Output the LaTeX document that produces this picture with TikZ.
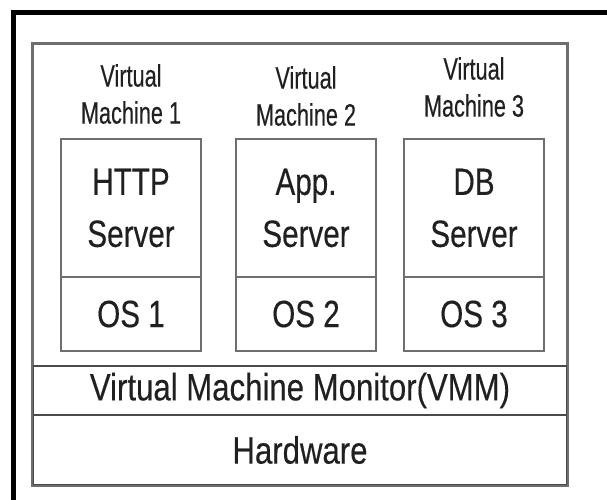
\documentclass[tikz,border=0pt]{standalone}
\usepackage{fontspec}
\setmainfont{Liberation Sans}[FakeStretch=0.78,FakeBold=0.3]
\newfontfamily\lblfont{Liberation Sans}[FakeStretch=0.70,FakeBold=0.3]
\newfontfamily\vmmfont{Liberation Sans}[FakeStretch=0.82,FakeBold=0.3]
\definecolor{boxgray}{HTML}{6E6E6E}
\definecolor{divgray}{HTML}{4A4A4A}
\definecolor{txt}{HTML}{202020}
\begin{document}
\begin{tikzpicture}[x=1pt,y=-1pt,
  frame/.style={line width=5pt,black},
  outerbox/.style={draw=boxgray,line width=2pt,rectangle,inner sep=0pt},
  vmbox/.style={draw=boxgray,line width=1.6pt,rectangle,inner sep=0pt,minimum width=140pt,
    text=txt,align=center,font=\fontsize{38}{52}\selectfont},
  layer/.style={draw=divgray,line width=1.6pt,rectangle,inner sep=0pt,minimum width=534pt,
    text=txt,font=\vmmfont\fontsize{38}{42}\selectfont},
  lbl/.style={inner sep=0pt,align=center,text=txt,font=\lblfont\fontsize{31}{37}\selectfont}]
\useasboundingbox (0,0) rectangle (607,500);
\draw[frame] (11,12.5) -- (607,12.5);
\draw[frame] (13.5,10) -- (13.5,500);
\node[outerbox,minimum width=534pt,minimum height=441pt] (outer) at (300,264.5) {};
\node[layer,minimum height=49pt] (vmm) at (300,390.5) {Virtual Machine Monitor(VMM)};
\node[layer,minimum height=70pt] (hw) at (300,450) {Hardware};
\draw[boxgray,line width=2pt] (outer.south west) rectangle (outer.north east);
% VM 1
\node[lbl] (l1) at (131,94) {Virtual\\Machine 1};
\node[vmbox,minimum height=138pt] (s1) at (131,208) {HTTP\\Server};
\node[vmbox,minimum height=74pt] (o1) at (131,314) {OS 1};
% VM 2
\node[lbl] (l2) at (306,96) {Virtual\\Machine 2};
\node[vmbox,minimum height=138pt] (s2) at (306,208) {App.\\Server};
\node[vmbox,minimum height=74pt] (o2) at (306,314) {OS 2};
% VM 3
\node[lbl] (l3) at (474,87) {Virtual\\Machine 3};
\node[vmbox,minimum height=138pt] (s3) at (474,208) {DB\\Server};
\node[vmbox,minimum height=74pt] (o3) at (474,314) {\raisebox{-3pt}{OS 3}};
\end{tikzpicture}
\end{document}
